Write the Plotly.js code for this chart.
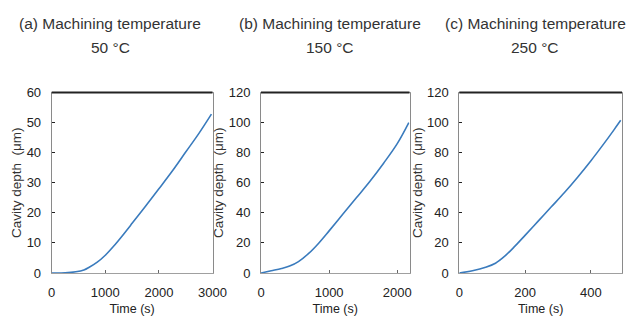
<!DOCTYPE html>
<html>
<head>
<meta charset="utf-8">
<script src="https://cdn.plot.ly/plotly-3.0.1.min.js"></script>
<style>html,body{margin:0;padding:0;background:#fff;}#chart{width:632px;height:323px;}</style>
</head>
<body>
<div id="chart"></div>
<script>
// Panel titles (two lines each)
const titleLine1 = ["(a) Machining temperature", "(b) Machining temperature", "(c) Machining temperature"];
const titleLine2 = ["50 °C", "150 °C", "250 °C"];
const xTitle = "Time (s)";
const yTitle = "Cavity depth  (μm)";

// (a) 50 °C
const timeA  = [0, 250, 450, 600, 700, 850, 1000, 1150, 1300, 1500, 1750, 2000, 2250, 2500, 2750, 2980];
const depthA = [0, 0.05, 0.4, 1.0, 1.9, 3.6, 5.9, 8.8, 12, 16.5, 22.2, 28, 33.9, 40.2, 46.5, 52.8];
// (b) 150 °C
const timeB  = [0, 150, 300, 420, 550, 700, 850, 1000, 1200, 1400, 1600, 1800, 2000, 2170];
const depthB = [0, 1.5, 3.0, 4.6, 7.6, 13, 20, 28, 39, 50, 61, 73, 86, 100];
// (c) 250 °C
const timeC  = [0, 40, 80, 110, 140, 170, 200, 240, 280, 320, 360, 400, 440, 470, 491];
const depthC = [0, 1.5, 3.8, 6.5, 11.5, 18, 25, 34.5, 44, 53.5, 63.7, 74.5, 86, 95, 101.5];

// axis ranges / ticks
const xRanges = [[0, 3000], [0, 2180], [0, 495]];
const xDtick  = [1000, 1000, 200];
const yRanges = [[0, 60], [0, 120], [0, 120]];
const yDtick  = [10, 20, 20];

const W = 632, H = 323;
const xDom = [[51.7, 212.5], [261, 409.5], [459.3, 622]].map(d => [d[0]/W, d[1]/W]);
const yDom = [1 - 273/H, 1 - 92.5/H];

const lineColor = "#3a7bbd";
const sans = '"Liberation Sans", Arial, sans-serif';

const xs = [timeA, timeB, timeC];
const ys = [depthA, depthB, depthC];
const data = xs.map((x, i) => ({
  x: x, y: ys[i], type: "scatter", mode: "lines",
  line: {color: lineColor, width: 1.6, shape: "spline", smoothing: 1},
  xaxis: i === 0 ? "x" : "x" + (i + 1),
  yaxis: i === 0 ? "y" : "y" + (i + 1),
  hoverinfo: "skip", showlegend: false
}));

const layout = {
  width: W, height: H,
  margin: {l: 0, r: 0, t: 0, b: 0},
  paper_bgcolor: "#fff", plot_bgcolor: "#fff",
  font: {family: sans, color: "#222", size: 13},
  showlegend: false,
  annotations: [],
  shapes: []
};

const centers = [110, 330, 535];
for (let i = 0; i < 3; i++) {
  const sx = i === 0 ? "" : String(i + 1);
  layout["xaxis" + sx] = {
    domain: xDom[i], range: xRanges[i], dtick: xDtick[i], tick0: 0,
    anchor: "y" + sx, showgrid: false, zeroline: false,
    showline: true, linecolor: "#a0a0a0", linewidth: 1, mirror: true,
    ticks: "inside", ticklen: 3, tickcolor: "#666", tickwidth: 1,
    tickfont: {family: sans, size: 13, color: "#222"},
    ticklabelstandoff: 7,
    title: {text: xTitle, font: {family: sans, size: 12.5, color: "#222"}, standoff: 5}
  };
  layout["yaxis" + sx] = {
    domain: yDom, range: yRanges[i], dtick: yDtick[i], tick0: 0,
    anchor: "x" + sx, showgrid: false, zeroline: false,
    showline: true, linecolor: "#8a8a8a", linewidth: 1, mirror: true,
    ticks: "inside", ticklen: 3, tickcolor: "#222", tickwidth: 1,
    tickfont: {family: sans, size: 13, color: "#222"},
    ticklabelstandoff: 7,
    title: {text: yTitle, font: {family: sans, size: 13.5, color: "#333"}, standoff: 1}
  };
  layout.shapes.push({
    type: "line", xref: "x" + sx + " domain", yref: "y" + sx + " domain",
    x0: 0, x1: 1, y0: 1, y1: 1, line: {color: "#222", width: 1.8}
  });
  layout.annotations.push({
    text: titleLine1[i], xref: "paper", yref: "paper",
    x: centers[i] / W, y: 1 - 24 / H, xanchor: "center", yanchor: "middle",
    showarrow: false, font: {family: sans, size: 15.5, color: "#333"}
  });
  layout.annotations.push({
    text: titleLine2[i], xref: "paper", yref: "paper",
    x: centers[i] / W, y: 1 - 48 / H, xanchor: "center", yanchor: "middle",
    showarrow: false, font: {family: sans, size: 15.5, color: "#333"}
  });
}

Plotly.newPlot("chart", data, layout, {staticPlot: true, displayModeBar: false});
</script>
</body>
</html>
